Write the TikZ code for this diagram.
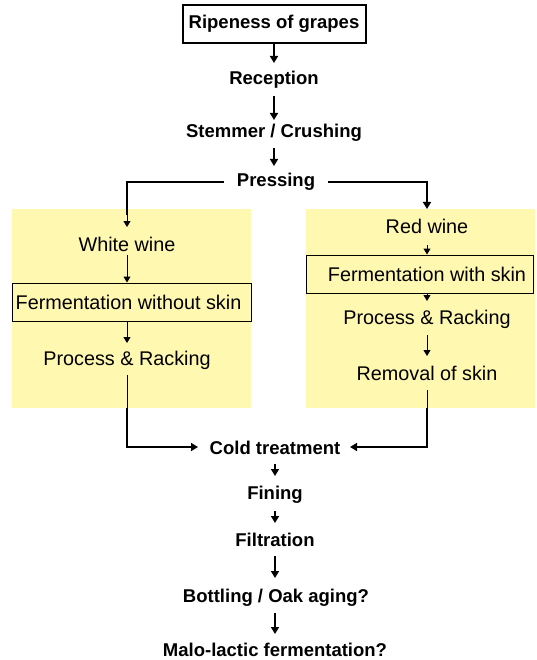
\documentclass[tikz,border=0pt]{standalone}
\usepackage{fontspec}
\setmainfont{Liberation Sans}
\usetikzlibrary{arrows.meta}
\definecolor{pale}{RGB}{255,248,176}
\tikzset{
  bt/.style={font=\fontsize{18.5}{20}\selectfont\bfseries, inner sep=1pt},
  rt/.style={font=\fontsize{19.8}{21}\selectfont, inner sep=1pt},
  frame/.style={draw, line width=1pt, inner sep=0pt, minimum height=38pt},
  arr/.style={-{Triangle[length=7pt,width=8pt]}, line width=1.6pt},
  tarr/.style={-{Triangle[length=6pt,width=7pt]}, line width=1pt},
  ln/.style={line width=1.6pt},
  tln/.style={line width=1pt}
}
\begin{document}
\begin{tikzpicture}[x=1pt,y=-1pt]
\useasboundingbox (0,0) rectangle (537,660);
% yellow zones
\fill[pale] (12,209) rectangle (251,408);
\fill[pale] (306,209) rectangle (535,408);
% top chain
\node[bt, draw, line width=2pt, minimum width=183pt, minimum height=38pt] (ripe) at (274,24) {Ripeness of grapes};
\node[bt] (rec) at (274,80) {Reception};
\node[bt] (stem) at (274,133) {Stemmer / Crushing};
\node[bt] (press) at (276,182) {Pressing};
\draw[arr] (ripe.south) -- (274,63);
\draw[arr] (rec.south) ++(0,6) -- (274,120);
\draw[arr] (stem.south) ++(0,5) -- (274,166);
% left column
\coordinate (lc) at (127,182);
\coordinate (lt) at (127,227);
\node[rt] (white) at (127,244) {White wine};
\node[frame, minimum width=239pt] (fwobox) at (131.5,302) {};
\node[rt] (fwo) at (128.5,302) {Fermentation without skin};
\node[rt] (procl) at (127,360) {Process \& Racking};
\draw[ln] (press.west) ++(-12,0) -- (lc) -- (127,215);
\draw[tarr] (127,214) -- (lt);
\draw[tarr] (white.south) ++(0,3) -- (fwobox.north -| lc);
\draw[tarr] (fwobox.south -| lc) -- (127,343);
% right column
\coordinate (rc) at (427,182);
\node[rt] (red) at (427,226) {Red wine};
\node[frame, minimum width=227pt] (fwsbox) at (419.5,274) {};
\node[rt] (fws) at (427,274) {Fermentation with skin};
\node[rt] (procr) at (427,319) {Process \& Racking};
\node[rt] (remov) at (427,373) {Removal of skin};
\draw[arr] (press.east) ++(12,0) -- (rc) -- (427,209);
\draw[tarr] (427,245) -- (fwsbox.north -| rc);
\draw[tarr] (fwsbox.south -| rc) -- (427,301);
\draw[tarr] (427,335) -- (427,356);
% bottom chain
\node[bt] (cold) at (275,448) {Cold treatment};
\node[bt] (fin) at (275,495) {Fining};
\node[bt] (filt) at (275,540) {Filtration};
\node[bt] (bott) at (276,598) {Bottling / Oak aging?};
\node[bt] (malo) at (275,650) {Malo-lactic fermentation?};
\coordinate (lb) at (127,447);
\coordinate (rb) at (427,447);
\draw[tln] (127,375) -- (127,408);
\draw[arr] (127,408) -- (lb) -- (198,447);
\draw[tln] (427,390) -- (427,408);
\draw[arr] (427,408) -- (rb) -- (350,447);
\draw[arr] (275,464) -- (275,476);
\draw[arr] (275,511) -- (275,523);
\draw[arr] (275,556) -- (275,578);
\draw[arr] (275,613) -- (275,634);
\end{tikzpicture}
\end{document}
